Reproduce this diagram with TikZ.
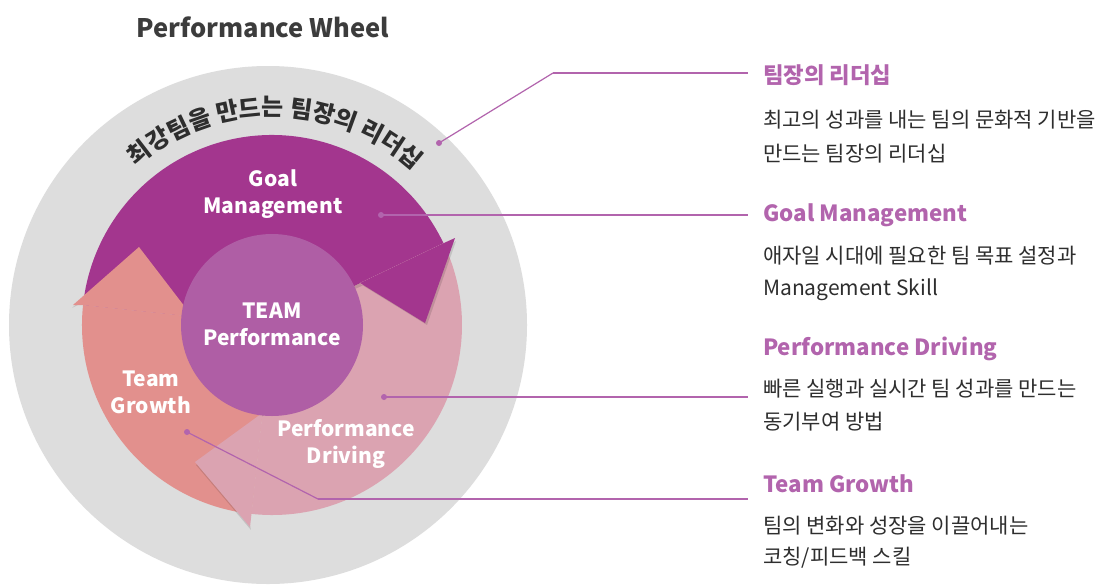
\documentclass[tikz,border=0pt]{standalone}
\usepackage{fontspec}
\setmainfont{Noto Sans CJK KR}
\usetikzlibrary{decorations.text}
\definecolor{ringgray}{HTML}{DDDDDD}
\definecolor{goalmag}{HTML}{A3368E}
\definecolor{corepurple}{HTML}{AF5EA5}
\definecolor{growthsalmon}{HTML}{E2908D}
\definecolor{drivepink}{HTML}{DBA3B1}
\definecolor{leaderpurple}{HTML}{B264AD}
\definecolor{textdark}{HTML}{2E2E2E}
\definecolor{titlegray}{HTML}{3C3C3C}
\tikzset{
  wheellabel/.style={text=white, font=\fontsize{21}{27}\selectfont\bfseries, align=center, inner sep=0pt},
  headtext/.style={text=leaderpurple, font=\fontsize{22.3}{26}\selectfont\bfseries, anchor=west, inner sep=0pt},
  desctext/.style={text=textdark, font=\fontsize{21}{24}\selectfont, anchor=west, inner sep=0pt},
  leader/.style={draw=leaderpurple, line width=1.6pt},
  leaderthin/.style={draw=leaderpurple, line width=1.2pt},
  dotmark/.style={circle, fill=leaderpurple, inner sep=0pt, minimum size=6pt},
  headshadow/.style={fill=black, opacity=0.12},
}
\begin{document}
\begin{tikzpicture}[x=1pt,y=1pt]
\useasboundingbox (0,0) rectangle (1105,-584);
\fill[white] (0,0) rectangle (1105,-584);
\coordinate (C) at (272,-325);
% outer gray ring
\fill[ringgray] (268,-325) circle (259);
% arrow bodies
\fill[goalmag] ([shift={(25.5:190)}]C) arc[start angle=25.5, end angle=174, radius=190]
  -- ([shift={(174:85)}]C) arc[start angle=174, end angle=25.5, radius=85] -- cycle;
\fill[growthsalmon] ([shift={(174:190)}]C) arc[start angle=174, end angle=263.8, radius=190]
  -- ([shift={(263.8:85)}]C) arc[start angle=263.8, end angle=174, radius=85] -- cycle;
\fill[drivepink] ([shift={(263.8:190)}]C) arc[start angle=263.8, end angle=385.5, radius=190]
  -- ([shift={(385.5:85)}]C) arc[start angle=385.5, end angle=263.8, radius=85] -- cycle;
% arrow head shadows
\fill[headshadow] (427,-325) -- (315,-256) -- ([shift={(23.5:85)}]C) -- ([shift={(23.5:185)}]C) -- (456,-241) -- cycle;
\fill[headshadow] (196,-465) -- (294,-393) -- ([shift={(262:85)}]C) -- ([shift={(262:185)}]C) -- (251,-530) -- cycle;
\fill[headshadow] (138,-250) -- (208,-340) -- ([shift={(172:85)}]C) -- ([shift={(172:185)}]C) -- (72,-308) -- cycle;
% arrow heads
\fill[goalmag] (425,-323) -- (313,-254) -- ([shift={(25.5:85)}]C) -- ([shift={(25.5:190)}]C) -- (455,-238) -- cycle;
\fill[drivepink] (195,-462) -- (294,-390) -- ([shift={(263.8:85)}]C) -- ([shift={(263.8:190)}]C) -- (250,-527) -- cycle;
\fill[growthsalmon] (139,-247) -- (208,-337) -- ([shift={(174:85)}]C) -- ([shift={(174:190)}]C) -- (73,-305) -- cycle;
% core circle
\fill[corepurple] (C) circle (91);
% curved text
\path[decorate, decoration={text along path, text align=center,
  text={|\fontsize{24}{26}\selectfont\bfseries\color{textdark}|최강팀을 만드는 팀장의 리더십}}]
  ([shift={(145:209)}]C) arc[start angle=145, end angle=33, radius=209];
% title
\node[text=titlegray, font=\fontsize{25.5}{30}\selectfont\bfseries, inner sep=0pt] (title) at (263,-27) {Performance Wheel};
% wheel labels
\node[wheellabel] (goal) at (273,-194) {Goal\\Management};
\node[wheellabel] (core) at (272,-324) {TEAM\\Performance};
\node[wheellabel] (growth) at (151,-392) {Team\\Growth};
\node[wheellabel] (drive) at (346,-444) {Performance\\Driving};
% right side texts
\node[headtext] (h1) at (763,-75) {팀장의 리더십};
\node[desctext] (d1a) at (763,-120) {최고의 성과를 내는 팀의 문화적 기반을};
\node[desctext] (d1b) at (763,-154) {만드는 팀장의 리더십};
\node[headtext] (h2) at (763,-215) {Goal Management};
\node[desctext] (d2a) at (763,-256) {애자일 시대에 필요한 팀 목표 설정과};
\node[desctext] (d2b) at (763,-290) {Management Skill};
\node[headtext] (h3) at (763,-349) {Performance Driving};
\node[desctext] (d3a) at (763,-389) {빠른 실행과 실시간 팀 성과를 만드는};
\node[desctext] (d3b) at (763,-422) {동기부여 방법};
\node[headtext] (h4) at (763,-484) {Team Growth};
\node[desctext] (d4a) at (763,-526) {팀의 변화와 성장을 이끌어내는};
\node[desctext] (d4b) at (763,-558) {코칭/피드백 스킬};
% leader lines
\node[dotmark] (p1) at (439,-143) {};
\node[dotmark] (p2) at (381,-215) {};
\node[dotmark] (p3) at (384,-397) {};
\node[dotmark] (p4) at (187,-432) {};
\coordinate (k1) at (553,-73);
\coordinate (e1) at (748,-73);
\coordinate (e2) at (748,-215);
\coordinate (e3) at (748,-397);
\coordinate (k4) at (318,-499);
\coordinate (e4) at (748,-499);
\draw[leaderthin] (p1.center) -- (k1);
\draw[leader] (k1) -- (e1);
\draw[leader] (p2.center) -- (e2);
\draw[leader] (p3.center) -- (e3);
\draw[leaderthin] (p4.center) -- (k4);
\draw[leader] (k4) -- (e4);
\end{tikzpicture}
\end{document}
